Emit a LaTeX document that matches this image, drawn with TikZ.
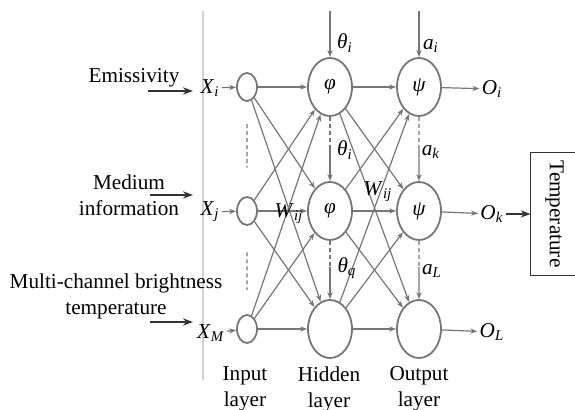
\documentclass[tikz,border=0pt]{standalone}
\usepackage{fontspec}
\setmainfont{Liberation Serif}
\usetikzlibrary{arrows.meta,positioning,calc,shapes.geometric}
\definecolor{netgray}{HTML}{767676}
\definecolor{sepgray}{HTML}{D2D2D2}
\newcommand{\sublab}[2]{\textit{#1}\textsubscript{\textit{#2}}}

\begin{document}
\begin{tikzpicture}[x=0.5pt,y=-0.5pt,font=\fontsize{10.6}{13}\selectfont,
    unit/.style={ellipse,draw=netgray,line width=0.9pt,inner sep=0pt},
    inunit/.style={unit,minimum width=10pt,minimum height=14pt},
    bigunit/.style={unit,minimum width=22pt,minimum height=29pt},
    link/.style={draw=netgray,line width=0.6pt,-{Stealth[length=3.5pt,width=2.6pt]}},
    dots/.style={draw=netgray,line width=0.6pt,dash pattern=on 2pt off 1.5pt},
    feed/.style={draw=black!80,line width=1pt,-{Stealth[length=5pt,width=3.6pt]}},
    lab/.style={inner sep=1pt}]
  \useasboundingbox (0,0) rectangle (575,410);
  \draw[sepgray,line width=0.6pt] (203,11) -- (203,380);

  % units of the three layers
  \foreach \n/\y/\hl/\ol in {1/87/φ/ψ, 2/211/φ/ψ, 3/329//}{
    \node[inunit] (in\n) at (247,\y) {};
    \node[bigunit] (h\n) at (330,\y) {\textit{\hl}};
    \node[bigunit] (o\n) at (419,\y) {\textit{\ol}};
  }

  % inputs
  \node (emis) at (134,78) {Emissivity};
  \node[align=center] (medium) at (129,195) {Medium\\information};
  \node[align=center] (multi) at (116,296) {Multi-channel brightness\\temperature};
  \node[lab] (xi) at (210,88) {\sublab{X}{i}};
  \node[lab] (xj) at (210,212) {\sublab{X}{j}};
  \node[lab] (xm) at (211,333) {\sublab{X}{M}};
  \coordinate (e0) at (148,91);  \coordinate (e1) at (193,91);
  \coordinate (m0) at (150,195); \coordinate (m1) at (193,195);
  \coordinate (b0) at (150,322); \coordinate (b1) at (193,322);
  \foreach \s/\t in {e0/e1,m0/m1,b0/b1}
    \draw[feed] (\s) -- (\t);
  \foreach \x/\n in {xi/in1,xj/in2,xm/in3}
    \draw[link] (\x) -- (\n);
  \draw[dots] ($(in1)!0.3!(in2)$) -- ($(in1)!0.65!(in2)$);
  \draw[dots] ($(in2)!0.35!(in3)$) -- ($(in2)!0.67!(in3)$);

  % weights
  \foreach \a in {in1,in2,in3}
    \foreach \b in {h1,h2,h3}
      \draw[link] (\a) -- (\b);
  \foreach \a in {h1,h2,h3}
    \foreach \b in {o1,o2,o3}
      \draw[link] (\a) -- (\b);
  \node[lab] (w1) at (289,214) {\sublab{W}{ij}};
  \node[lab] (w2) at (378,192) {\sublab{W}{ij}};

  % thresholds
  \coordinate (thtop) at (330,11);
  \coordinate (atop) at (419,11);
  \draw[link] (thtop) -- (h1.north);
  \draw[link] (atop) -- (o1.north);
  \foreach \u/\v in {h1/h2,h2/h3,o1/o2,o2/o3}{
    \draw[dots] (\u.south) -- ($(\u.south)!0.45!(\v.north)$) coordinate (mid\u);
    \draw[link] (mid\u) -- (\v.north);
  }
  \node[lab] (th1) at (345,43) {\sublab{θ}{i}};
  \node[lab] (th2) at (345,150) {\sublab{θ}{i}};
  \node[lab] (th3) at (347,268) {\sublab{θ}{q}};
  \node[lab] (a1) at (431,46) {\sublab{a}{i}};
  \node[lab] (a2) at (431,152) {\sublab{a}{k}};
  \node[lab] (a3) at (432,271) {\sublab{a}{L}};

  % outputs
  \node[lab] (oi) at (492,89) {\sublab{O}{i}};
  \node[lab] (ok) at (492,214) {\sublab{O}{k}};
  \node[lab] (ol) at (492,332) {\sublab{O}{L}};
  \foreach \n/\m in {o1/oi,o2/ok,o3/ol}
    \draw[link] (\n) -- (\m);
  \node[rotate=-90,inner sep=0pt,minimum width=61pt,minimum height=23.5pt]
    (temp) at (554.5,214) {Temperature};
  % box is cut off at the right border
  \draw[black!80,line width=0.8pt] ([xshift=40pt]temp.south west) -- (temp.south west)
    -- (temp.south east) -- ([xshift=40pt]temp.south east);
  \draw[feed] (ok) -- (temp);

  % layer names
  \node[align=center] (inlay) at (245,389) {Input\\layer};
  \node[align=center] (hidlay) at (329,389) {Hidden\\layer};
  \node[align=center] (outlay) at (419,389) {Output\\layer};
\end{tikzpicture}
\end{document}
